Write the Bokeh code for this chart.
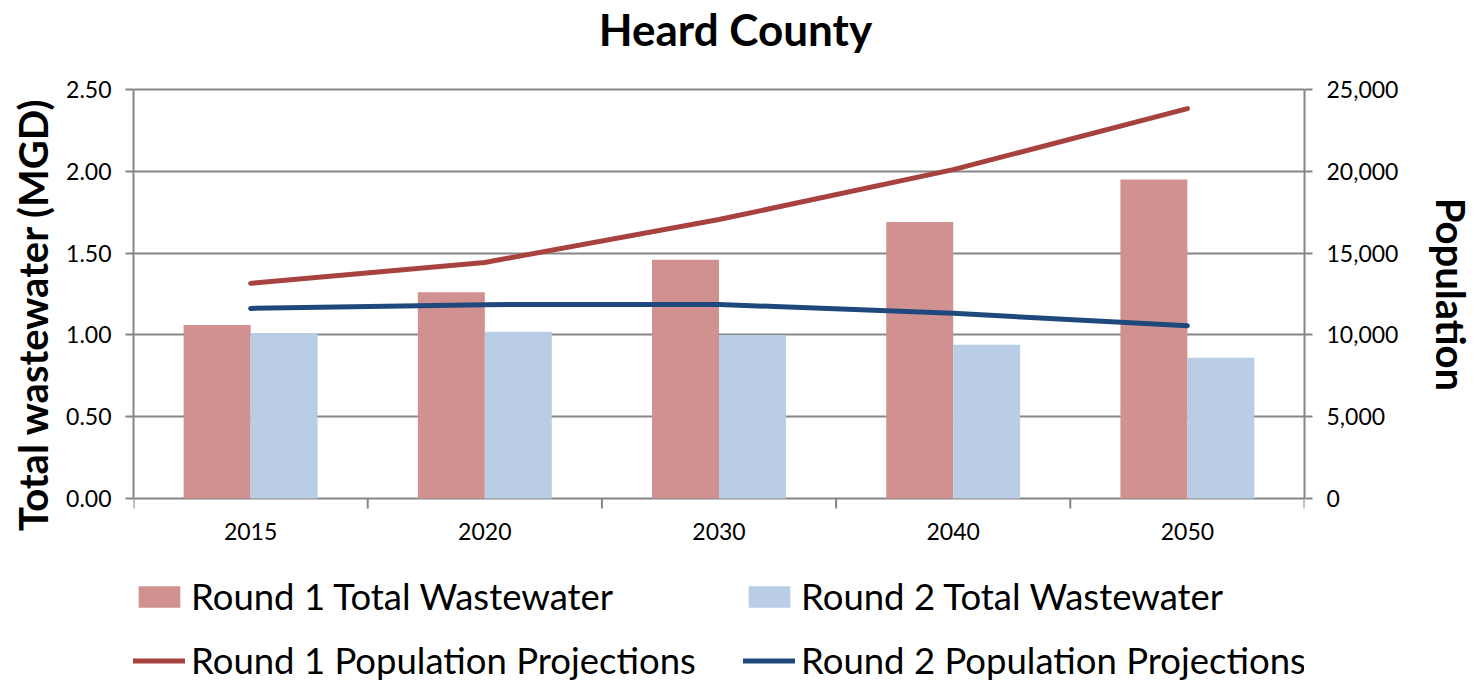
from bokeh.plotting import figure
from bokeh.models import (Range1d, LinearAxis, FixedTicker, NumeralTickFormatter,
                          Legend, LegendItem, ColumnDataSource, Label)
from bokeh.core.properties import value
from bokeh.embed import file_html
from bokeh.resources import INLINE

years = ["2015", "2020", "2030", "2040", "2050"]
r1_wastewater = [1.06, 1.26, 1.46, 1.69, 1.95]
r2_wastewater = [1.01, 1.02, 1.00, 0.94, 0.86]
r1_population = [13150, 14430, 17050, 20100, 23830]
r2_population = [11620, 11850, 11860, 11320, 10560]
ww_ticks = [0, 0.5, 1.0, 1.5, 2.0, 2.5]
pop_ticks = [0, 5000, 10000, 15000, 20000, 25000]
series_labels = ["Round 1 Total Wastewater", "Round 2 Total Wastewater",
                 "Round 1 Population Projections", "Round 2 Population Projections"]

FONT = "Lato"
GRID = "#868686"
RED_BAR = "#D19190"
BLUE_BAR = "#B9CDE4"
RED_LINE = "#A8423F"
BLUE_LINE = "#1F497D"
NBSP = "\u00a0"

# layout (pixels)
LEFT, RIGHT = 133, 150
FRAME_W, FRAME_H = 1171, 685
PLOT_TOP, PLOT_H = 89, 409          # where the 0..2.5 area sits inside the frame
px_per_unit = PLOT_H / ww_ticks[-1]
y_top = ww_ticks[-1] + PLOT_TOP / px_per_unit
y_bot = -(FRAME_H - PLOT_TOP - PLOT_H) / px_per_unit
pop_scale = pop_ticks[-1] / ww_ticks[-1]

centers = [i + 0.5 for i in range(len(years))]
bounds = [float(i) for i in range(len(years) + 1)]
bar_w = 0.286

src = ColumnDataSource(dict(
    x=centers,
    x1=[c - bar_w / 2 for c in centers],
    x2=[c + bar_w / 2 for c in centers],
    r1w=r1_wastewater, r2w=r2_wastewater,
    r1p=r1_population, r2p=r2_population,
))

p = figure(frame_width=FRAME_W, frame_height=FRAME_H, output_backend="svg",
           toolbar_location=None,
           x_range=Range1d(0, len(years)), y_range=Range1d(y_bot, y_top),
           min_border_left=LEFT, min_border_right=RIGHT, min_border_top=0,
           min_border_bottom=0)
p.extra_y_ranges = {"pop": Range1d(y_bot * pop_scale, y_top * pop_scale)}
p.outline_line_color = None
p.background_fill_color = "white"
p.border_fill_color = "white"
p.xaxis.visible = False

b1 = p.vbar(x="x1", top="r1w", width=bar_w, source=src, fill_color=RED_BAR,
            line_color=None)
b2 = p.vbar(x="x2", top="r2w", width=bar_w, source=src, fill_color=BLUE_BAR,
            line_color=None)
l1 = p.line(x="x", y="r1p", source=src, y_range_name="pop", line_color=RED_LINE,
            line_width=5, line_cap="round", line_join="round")
l2 = p.line(x="x", y="r2p", source=src, y_range_name="pop", line_color=BLUE_LINE,
            line_width=5, line_cap="round", line_join="round")

# category axis: boundary ticks and centred year labels
tick_len = 10 / px_per_unit
p.segment(x0=bounds, y0=[0] * len(bounds), x1=bounds, y1=[-tick_len] * len(bounds),
          line_color=GRID, line_width=2)
p.text(x=centers, y=[0] * len(centers), text=years, text_font=value(FONT),
       text_font_size="23px", text_align="center", text_baseline="middle",
       y_offset=33, text_color="black")

def style_y(ax, label, standoff):
    ax.axis_label = label
    ax.axis_label_text_font = FONT
    ax.axis_label_text_font_size = "40px"
    ax.axis_label_text_font_style = "bold"
    ax.axis_label_text_color = "black"
    ax.axis_label_standoff = standoff
    ax.major_label_text_font = FONT
    ax.major_label_text_font_size = "23px"
    ax.major_label_text_color = "black"
    ax.major_tick_in = 0
    ax.major_tick_out = 8
    ax.major_tick_line_color = GRID
    ax.major_tick_line_width = 2
    ax.minor_tick_line_color = None
    ax.axis_line_color = GRID
    ax.axis_line_width = 2
    ax.major_label_standoff = 14

ya = p.yaxis[0]
ya.ticker = FixedTicker(ticks=ww_ticks)
ya.formatter = NumeralTickFormatter(format="0.00")
ya.bounds = (ww_ticks[0], ww_ticks[-1])
style_y(ya, NBSP * 6 + "Total wastewater (MGD)", 6)

ra = LinearAxis(y_range_name="pop", ticker=FixedTicker(ticks=pop_ticks),
                formatter=NumeralTickFormatter(format="0,0"),
                bounds=(pop_ticks[0], pop_ticks[-1]))
style_y(ra, "Population" + NBSP * 10, 26)
p.add_layout(ra, "right")

p.xgrid.grid_line_color = None
p.ygrid.grid_line_color = GRID
p.ygrid.grid_line_width = 2
p.ygrid.ticker = FixedTicker(ticks=ww_ticks)

title = Label(x=len(years) / 2 + 16.5 / (FRAME_W / len(years)),
              y=ww_ticks[-1] + (PLOT_TOP - 28.6) / px_per_unit,
              text="Heard County", text_font=FONT, text_font_size="44px",
              text_font_style="bold", text_color="black",
              text_align="center", text_baseline="middle")
p.add_layout(title)

def make_legend(items, loc):
    lg = Legend(items=items, orientation="vertical", location=loc)
    lg.label_text_font = FONT
    lg.label_text_font_size = "36.5px"
    lg.label_text_color = "black"
    lg.glyph_width = 52
    lg.glyph_height = 27
    lg.label_height = 30
    lg.spacing = 20
    lg.label_standoff = 6
    lg.padding = 0
    lg.margin = 0
    lg.border_line_color = None
    lg.background_fill_alpha = 0
    return lg

p.add_layout(make_legend([LegendItem(label=series_labels[0], renderers=[b1]),
                          LegendItem(label=series_labels[2], renderers=[l1])],
                         (0, 3)))
p.add_layout(make_legend([LegendItem(label=series_labels[1], renderers=[b2]),
                          LegendItem(label=series_labels[3], renderers=[l2])],
                         (610, 3)))

open("out.html", "w").write(file_html(p, INLINE))
